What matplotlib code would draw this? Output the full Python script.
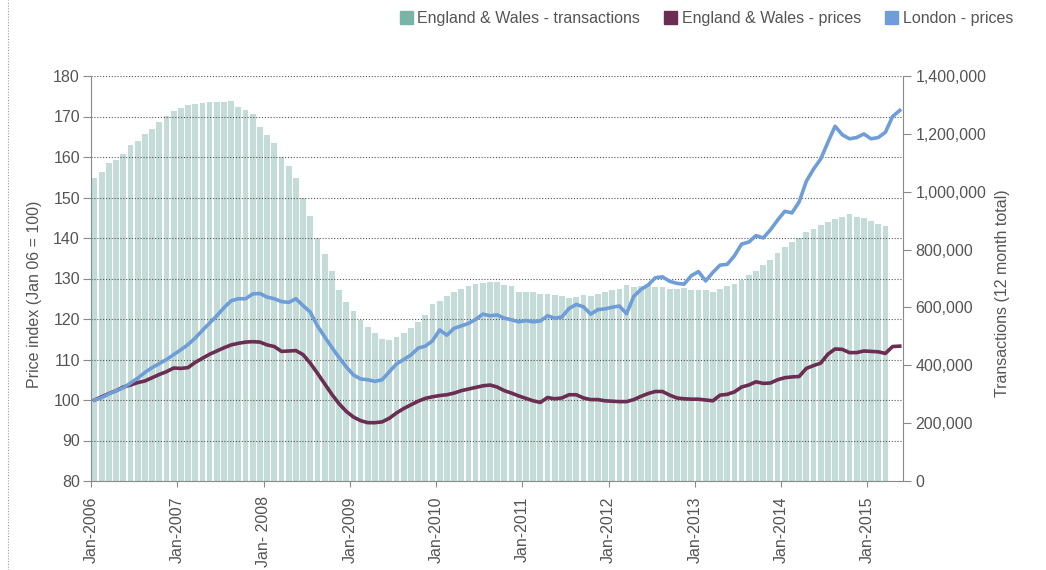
import numpy as np
import matplotlib
matplotlib.use("Agg")
import matplotlib.pyplot as plt
from matplotlib.patches import Patch
from matplotlib.lines import Line2D
from matplotlib.ticker import FuncFormatter

plt.rcParams['font.family'] = ['Liberation Sans', 'DejaVu Sans']

# --- data (monthly, Jan 2006 onwards) ---
# E&W transactions, 12 month rolling total, in thousands (Jan 2006 - Mar 2015)
transactions_k = [1047, 1067, 1099, 1110, 1131, 1161, 1176, 1201, 1218, 1240,
                  1263, 1278, 1291, 1301, 1303, 1306, 1309, 1309, 1309, 1313,
                  1294, 1282, 1267, 1225, 1196, 1169, 1121, 1089, 1046, 980,
                  916, 841, 784, 727, 661, 620, 588, 557, 533, 511,
                  491, 487, 498, 511, 528, 550, 574, 613, 623, 638,
                  654, 665, 673, 680, 685, 687, 687, 679, 675, 655,
                  655, 654, 648, 647, 644, 640, 634, 637, 643, 641,
                  645, 652, 659, 664, 678, 669, 673, 680, 672, 672,
                  662, 664, 668, 661, 661, 661, 655, 662, 673, 682,
                  694, 711, 727, 745, 764, 787, 808, 827, 841, 860,
                  871, 885, 896, 904, 914, 923, 914, 909, 900, 890,
                  883]

# price index, Jan 06 = 100 (Jan 2006 - May 2015)
ew_prices = [100.0, 100.8, 101.6, 102.3, 103.2, 103.7, 104.3, 104.7, 105.5, 106.3,
             107.0, 107.9, 107.8, 108.0, 109.3, 110.3, 111.3, 112.1, 112.9, 113.6,
             114.0, 114.3, 114.4, 114.3, 113.6, 113.2, 112.0, 112.1, 112.2, 111.2,
             109.1, 106.6, 104.0, 101.4, 99.1, 97.2, 95.8, 94.9, 94.4, 94.4,
             94.6, 95.5, 96.8, 97.9, 98.8, 99.7, 100.4, 100.8, 101.1, 101.3,
             101.7, 102.3, 102.7, 103.1, 103.5, 103.7, 103.2, 102.3, 101.7, 101.0,
             100.4, 99.8, 99.4, 100.6, 100.3, 100.5, 101.3, 101.3, 100.5, 100.1,
             100.1, 99.8, 99.7, 99.6, 99.6, 100.1, 100.9, 101.6, 102.1, 102.1,
             101.2, 100.5, 100.3, 100.2, 100.2, 100.0, 99.8, 101.2, 101.4, 102.0,
             103.2, 103.7, 104.5, 104.1, 104.2, 105.0, 105.5, 105.7, 105.8, 107.8,
             108.5, 109.1, 111.3, 112.6, 112.5, 111.7, 111.7, 112.1, 112.0, 111.9,
             111.5, 113.2, 113.3]

london_prices = [100.0, 100.6, 101.5, 102.3, 103.0, 104.2, 105.4, 106.8, 108.0, 109.0,
                 110.0, 111.2, 112.4, 113.7, 115.3, 117.2, 119.0, 120.8, 122.8, 124.5,
                 125.0, 125.0, 126.2, 126.3, 125.4, 125.0, 124.3, 124.1, 125.0, 123.3,
                 121.7, 118.3, 115.6, 113.0, 110.5, 108.2, 106.2, 105.2, 105.0, 104.6,
                 105.0, 107.0, 108.9, 110.0, 111.1, 112.8, 113.3, 114.6, 117.3, 116.0,
                 117.7, 118.3, 118.9, 119.9, 121.2, 120.8, 121.0, 120.2, 119.8, 119.3,
                 119.6, 119.3, 119.5, 120.8, 120.2, 120.5, 122.6, 123.6, 123.0, 121.2,
                 122.3, 122.5, 122.9, 123.2, 121.3, 125.6, 127.3, 128.4, 130.2, 130.4,
                 129.3, 128.8, 128.6, 130.7, 131.7, 129.4, 131.5, 133.3, 133.5, 135.6,
                 138.5, 139.0, 140.6, 140.0, 142.0, 144.4, 146.6, 146.2, 148.9, 154.0,
                 157.0, 159.5, 163.6, 167.6, 165.5, 164.5, 164.8, 165.7, 164.5, 164.8,
                 166.1, 170.0, 171.5]

tick_labels = ["Jan-2006", "Jan-2007", "Jan- 2008", "Jan-2009", "Jan-2010",
               "Jan-2011", "Jan-2012", "Jan-2013", "Jan-2014", "Jan-2015"]

col_trans = "#7ab3a8"
col_ew = "#6b2d52"
col_lon = "#6e9dd8"
grey = "#8a8a8a"
txt = "#555555"

fig = plt.figure(figsize=(10.46, 5.70), dpi=100)
ax = fig.add_axes([91 / 1046, 1 - 481 / 570, 812 / 1046, 405 / 570])
ax2 = ax.twinx()

# bars on right axis, lines on left axis (drawn above)
xb = np.arange(len(transactions_k)) + 0.5
ax2.bar(xb, np.array(transactions_k) * 1000, width=0.8, color=col_trans,
        alpha=0.45, linewidth=0)
ax.set_zorder(ax2.get_zorder() + 1)
ax.patch.set_visible(False)

xl = np.arange(len(ew_prices)) + 0.5
ax.plot(xl, ew_prices, color=col_ew, lw=2.6, solid_joinstyle="round")
ax.plot(xl, london_prices, color=col_lon, lw=2.6, solid_joinstyle="round")

ax.set_xlim(0, 112.95)
ax.set_ylim(80, 180)
ax2.set_ylim(0, 1400000)

ax.set_yticks(range(80, 181, 10))
ax2.set_yticks(range(0, 1400001, 200000))
ax2.yaxis.set_major_formatter(FuncFormatter(lambda v, p: f"{int(v):,}"))

ax.set_xticks(np.arange(0, 12 * len(tick_labels), 12))
ax.set_xticklabels(tick_labels, rotation=90, va="top", ha="center")

ax.grid(axis="y", linestyle=(0, (1, 1.6)), color="#555555", lw=0.8)

for s in ["top", "right"]:
    ax.spines[s].set_visible(False)
for s in ["top", "left", "bottom"]:
    ax2.spines[s].set_visible(False)
ax.spines["left"].set_color(grey)
ax.spines["bottom"].set_color(grey)
ax2.spines["right"].set_color(grey)

ax.tick_params(axis="y", direction="out", length=6, color=grey,
               labelcolor=txt, labelsize=11.5, pad=2)
ax.tick_params(axis="x", direction="out", length=4, color=grey,
               labelcolor=txt, labelsize=11.5, pad=7)
ax2.tick_params(axis="y", direction="out", length=6, color=grey,
                labelcolor=txt, labelsize=11.5, pad=3)

fig.text(35 / 1046, 1 - 294 / 570, "Price index (Jan 06 = 100)", rotation=90,
         ha="center", va="center", color=txt, fontsize=11.5)
fig.text(1003 / 1046, 1 - 293 / 570, "Transactions (12 month total)", rotation=90,
         ha="center", va="center", color=txt, fontsize=11.5)

handles = [Patch(color=col_trans), Patch(color=col_ew), Patch(color=col_lon)]
labels = ["England & Wales - transactions", "England & Wales - prices", "London - prices"]
fig.legend(handles, labels, loc="upper right", bbox_to_anchor=(1013 / 1046, 1 - 11 / 570),
           ncol=3, frameon=False, handlelength=0.8, handleheight=0.8,
           handletextpad=0.3, columnspacing=1.5, borderaxespad=0, borderpad=0,
           labelcolor=txt, fontsize=11.5)

# dotted page edge on the far left
fig.add_artist(Line2D([8 / 1046, 8 / 1046], [0, 1], transform=fig.transFigure,
                      color="#999999", lw=0.8, linestyle=(0, (1, 1.5))))

fig.savefig("out.png", dpi=100)
